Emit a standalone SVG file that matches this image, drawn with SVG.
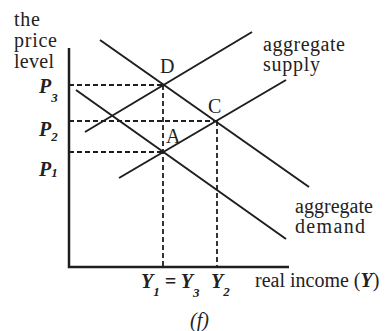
<svg xmlns="http://www.w3.org/2000/svg" width="385" height="331" viewBox="0 0 385 331">
<style>
.t{font-family:"Liberation Serif","Times New Roman",serif;font-size:20px;fill:#222}
.v{font-family:"Liberation Serif","Times New Roman",serif;font-size:20px;font-style:italic;font-weight:bold;fill:#222}
.s{font-size:13px}
.c{stroke:#1e1e1e;stroke-width:2;fill:none}
.d{stroke:#1e1e1e;stroke-width:1.8;stroke-dasharray:5 3;fill:none}
</style>
<rect width="385" height="331" fill="#fff"/>
<g id="axes">
<polyline points="69,48 69,267 289,267" fill="none" stroke="#1e1e1e" stroke-width="2.5"/>
</g>
<g id="connectors">
<line class="c" x1="100" y1="40" x2="309" y2="187"/>
<line class="c" x1="76" y1="90" x2="286" y2="239"/>
<line class="c" x1="119" y1="178" x2="286" y2="80"/>
<line class="c" x1="85" y1="132" x2="252" y2="32"/>
<line class="d" x1="69" y1="85" x2="163" y2="85"/>
<line class="d" x1="69" y1="121" x2="217" y2="121"/>
<line class="d" x1="69" y1="152" x2="163" y2="152"/>
<line class="d" x1="163" y1="85" x2="163" y2="267"/>
<line class="d" x1="217" y1="121" x2="217" y2="267"/>
</g>
<g id="axis-label-y">
<text class="t" x="14" y="26" textLength="26">the</text>
<text class="t" x="14" y="47" textLength="43">price</text>
<text class="t" x="14" y="68" textLength="40">level</text>
</g>
<g id="price-labels">
<text class="v" x="39" y="93">P<tspan class="s" dy="9">3</tspan></text>
<text class="v" x="39" y="136">P<tspan class="s" dy="5">2</tspan></text>
<text class="v" x="39" y="176">P<tspan class="s" dy="1">1</tspan></text>
</g>
<g id="point-D"><text class="t" x="160" y="73">D</text></g>
<g id="point-A"><text class="t" x="166" y="143">A</text></g>
<g id="point-C"><text class="t" x="208" y="113">C</text></g>
<g id="label-supply">
<text class="t" x="263" y="51" textLength="82">aggregate</text>
<text class="t" x="263" y="71" textLength="57">supply</text>
</g>
<g id="label-demand">
<text class="t" x="295" y="213" textLength="78">aggregate</text>
<text class="t" x="295" y="233" textLength="70">demand</text>
</g>
<g id="income-labels">
<text class="v" x="141" y="288">Y<tspan class="s" dy="8">1</tspan><tspan dy="-8"> = Y</tspan><tspan class="s" dy="9">3</tspan></text>
<text class="v" x="211" y="288">Y<tspan class="s" dy="8">2</tspan></text>
<text class="t" x="255" y="287">real income (<tspan font-style="italic" font-weight="bold">Y</tspan>)</text>
</g>
<g id="caption"><text class="t" x="190" y="327" font-size="15" font-style="italic">(f)</text></g>
</svg>
